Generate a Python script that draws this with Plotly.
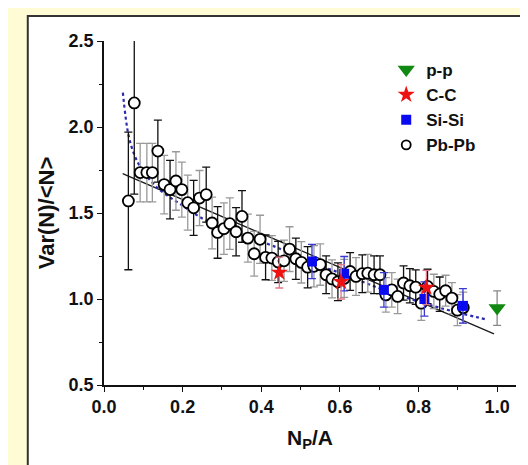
import plotly.graph_objects as go

# Pb-Pb (open circles), error bars alternate dark / grey
pb_x = [0.062, 0.077, 0.092, 0.109, 0.123, 0.137, 0.153, 0.168, 0.183, 0.198,
        0.213, 0.228, 0.243, 0.260, 0.275, 0.289, 0.305, 0.320, 0.336, 0.351,
        0.366, 0.382, 0.397, 0.411, 0.427, 0.443, 0.458, 0.472, 0.488, 0.502,
        0.518, 0.534, 0.550, 0.565, 0.580, 0.595, 0.611, 0.626, 0.641, 0.657,
        0.671, 0.687, 0.702, 0.717, 0.732, 0.747, 0.762, 0.778, 0.793, 0.807,
        0.823, 0.839, 0.854, 0.869, 0.885, 0.899, 0.914]
pb_y = [1.57, 2.14, 1.735, 1.735, 1.735, 1.86, 1.665, 1.636, 1.686, 1.636,
        1.56, 1.53, 1.587, 1.607, 1.442, 1.387, 1.409, 1.438, 1.391, 1.48,
        1.354, 1.263, 1.347, 1.242, 1.238, 1.215, 1.222, 1.29, 1.234, 1.213,
        1.185, 1.19, 1.2, 1.141, 1.117, 1.10, 1.12, 1.16, 1.131, 1.147,
        1.15, 1.141, 1.141, 1.024, 1.053, 1.015, 1.093, 1.077, 1.069, 0.976,
        1.073, 1.044, 1.028, 1.048, 1.005, 0.935, 0.95]
pb_err = [0.40, 0.53, 0.17, 0.17, 0.17, 0.18, 0.17, 0.17, 0.17, 0.16,
          0.16, 0.16, 0.16, 0.16, 0.15, 0.15, 0.15, 0.15, 0.14, 0.15,
          0.14, 0.13, 0.14, 0.13, 0.13, 0.12, 0.12, 0.13, 0.12, 0.12,
          0.12, 0.12, 0.12, 0.11, 0.11, 0.11, 0.11, 0.11, 0.11, 0.11,
          0.11, 0.11, 0.11, 0.10, 0.10, 0.10, 0.10, 0.10, 0.10, 0.10,
          0.10, 0.10, 0.10, 0.09, 0.09, 0.09, 0.09]
pb_dark = [1, 1, 0, 0, 0, 1, 0, 1, 0, 0,
           0, 1, 0, 1, 0, 1, 0, 0, 1, 1,
           0, 0, 0, 1, 0, 1, 0, 0, 1, 0,
           1, 0, 0, 1, 0, 1, 0, 1, 0, 1,
           0, 1, 1, 0, 0, 0, 1, 1, 1, 0,
           1, 0, 1, 0, 0, 0, 0]

si_x = [0.529, 0.611, 0.712, 0.815, 0.913]
si_y = [1.218, 1.147, 1.053, 1.00, 0.96]
si_err = [0.10, 0.10, 0.10, 0.10, 0.10]

cc_x = [0.446, 0.603, 0.820]
cc_y = [1.154, 1.10, 1.067]
cc_err = [0.09, 0.10, 0.10]

pp_x = [1.0]
pp_y = [0.947]
pp_err = [0.10]

fit_x = [0.0475, 0.992]
fit_y = [1.729, 0.797]

model_x = [0.048, 0.062, 0.077, 0.094, 0.136, 0.196, 0.264, 0.349, 0.433,
           0.518, 0.603, 0.688, 0.773, 0.857, 0.976]
model_y = [2.20, 1.956, 1.84, 1.762, 1.646, 1.549, 1.451, 1.374, 1.306,
           1.218, 1.15, 1.073, 1.005, 0.947, 0.879]

FONT = "Liberation Sans, Arial, sans-serif"

fig = go.Figure()

fig.add_trace(go.Scatter(x=fit_x, y=fit_y, mode="lines",
                         line=dict(color="#1a1a1a", width=1.3),
                         showlegend=False, hoverinfo="skip"))
fig.add_trace(go.Scatter(x=model_x, y=model_y, mode="lines",
                         line=dict(color="#2b2bb0", width=2.2, dash="dot", shape="spline"),
                         showlegend=False, hoverinfo="skip"))

# Pb-Pb error bars, split by colour
for flag, col in [(0, "#9a9a9a"), (1, "#111111")]:
    xs = [x for x, d in zip(pb_x, pb_dark) if d == flag]
    ys = [y for y, d in zip(pb_y, pb_dark) if d == flag]
    es = [e for e, d in zip(pb_err, pb_dark) if d == flag]
    fig.add_trace(go.Scatter(x=xs, y=ys, mode="markers",
                             marker=dict(size=1, color="rgba(0,0,0,0)"),
                             error_y=dict(type="data", array=es, color=col,
                                          thickness=1.3, width=4),
                             showlegend=False, hoverinfo="skip"))

fig.add_trace(go.Scatter(x=pb_x, y=pb_y, mode="markers", name="Pb-Pb",
                         marker=dict(symbol="circle", size=11, color="white",
                                     line=dict(width=1.8, color="#000000")),
                         showlegend=False))
# small legend-only marker for Pb-Pb
fig.add_trace(go.Scatter(x=[None], y=[None], mode="markers", name="Pb-Pb",
                         marker=dict(symbol="circle", size=9, color="white",
                                     line=dict(width=1.8, color="#000000")),
                         legendrank=4))
fig.add_trace(go.Scatter(x=si_x, y=si_y, mode="markers", name="Si-Si",
                         marker=dict(symbol="square", size=10, color="#0a0af0"),
                         error_y=dict(type="data", array=si_err, color="#3a3ad0",
                                      thickness=1.3, width=4),
                         legendrank=3))
fig.add_trace(go.Scatter(x=cc_x, y=cc_y, mode="markers", name="C-C",
                         marker=dict(symbol="star", size=13, color="#ee1111"),
                         error_y=dict(type="data", array=cc_err, color="#e07a8a",
                                      thickness=1.3, width=4),
                         legendrank=2))
fig.add_trace(go.Scatter(x=pp_x, y=pp_y, mode="markers", name="p-p",
                         marker=dict(symbol="triangle-down", size=15, color="#118811"),
                         error_y=dict(type="data", array=pp_err, color="#888888",
                                      thickness=1.3, width=4),
                         legendrank=1))

fig.update_layout(
    width=528, height=465,
    margin=dict(l=96, r=20, t=33, b=88),
    paper_bgcolor="#fffbd4",
    plot_bgcolor="white",
    font=dict(family=FONT, color="#111111"),
    showlegend=True,
    legend=dict(x=0.685, y=0.968, xanchor="left", yanchor="top",
                bgcolor="rgba(0,0,0,0)", font=dict(size=17, weight="bold"),
                itemwidth=30, tracegroupgap=0),
    shapes=[dict(type="rect", xref="paper", yref="paper",
                 x0=-0.185, x1=1.06, y0=-0.247, y1=1.073,
                 line=dict(color="#333333", width=2), fillcolor="white",
                 layer="below")],
)

fig.update_xaxes(range=[0, 1.048], tickvals=[0, 0.2, 0.4, 0.6, 0.8, 1.0],
                 ticktext=["0.0", "0.2", "0.4", "0.6", "0.8", "1.0"],
                 showgrid=False, zeroline=False, showline=True,
                 linecolor="#111111", linewidth=1.5,
                 ticks="outside", ticklen=5, tickwidth=1.3, tickcolor="#111111",
                 minor=dict(tickvals=[0.1, 0.3, 0.5, 0.7, 0.9], ticks="outside",
                            ticklen=3, tickcolor="#111111"),
                 tickfont=dict(size=18, weight="bold"),
                 title=dict(text="N<sub>P</sub>/A", font=dict(size=21, weight="bold"),
                            standoff=14))
fig.update_yaxes(range=[0.5, 2.5], tickvals=[0.5, 1.0, 1.5, 2.0, 2.5],
                 ticktext=["0.5", "1.0", "1.5", "2.0", "2.5"],
                 showgrid=False, zeroline=False, showline=True,
                 linecolor="#111111", linewidth=1.5,
                 ticks="outside", ticklen=5, tickwidth=1.3, tickcolor="#111111",
                 minor=dict(tickvals=[0.75, 1.25, 1.75, 2.25], ticks="outside",
                            ticklen=3, tickcolor="#111111"),
                 tickfont=dict(size=18, weight="bold"),
                 title=dict(text="Var(N)/&lt;N&gt;", font=dict(size=22, weight="bold"),
                            standoff=8))

fig.write_html("out.html")
